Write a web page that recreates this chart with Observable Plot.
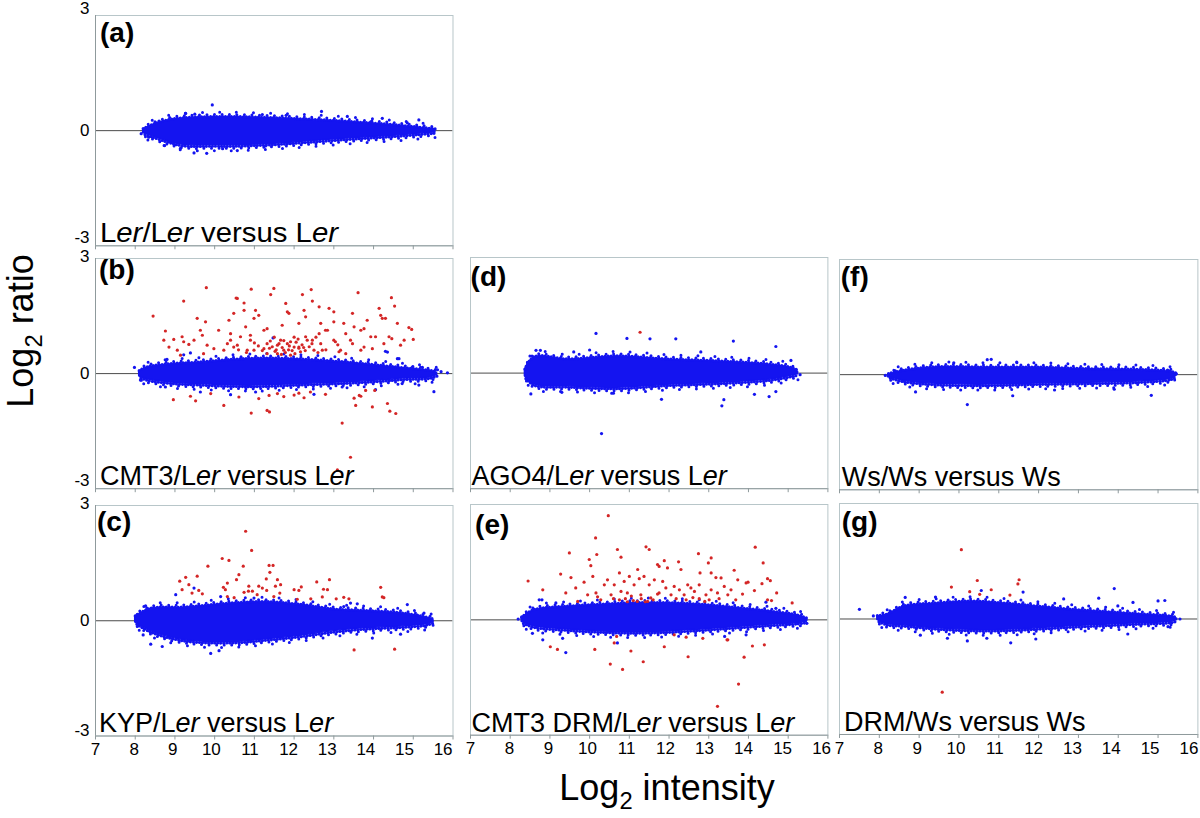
<!DOCTYPE html>
<html>
<head>
<meta charset="utf-8">
<script src="https://cdn.jsdelivr.net/npm/d3@7"></script>
<script src="https://cdn.jsdelivr.net/npm/@observablehq/plot@0.6"></script>
<style>
  html, body { margin: 0; padding: 0; background: #ffffff; }
  #wrap { position: relative; width: 1200px; height: 818px; overflow: hidden; background: #fff; }
  .pan { position: absolute; }
  .pan svg { max-width: none !important; overflow: visible; display: block; }
  #ov { position: absolute; left: 0; top: 0; pointer-events: none; }
</style>
</head>
<body>
<div id="wrap"></div>
<script>
// ---------------- DATA ----------------
const xTicks = [7, 8, 9, 10, 11, 12, 13, 14, 15, 16];
const yTicks = [-3, 0, 3];
const panelLetters = ["(a)", "(b)", "(c)", "(d)", "(e)", "(f)", "(g)"];
const panelNames = [
  "L*er*/L*er* versus L*er*",
  "CMT3/L*er* versus L*er*",
  "KYP/L*er* versus L*er*",
  "AGO4/L*er* versus L*er*",
  "CMT3 DRM/L*er* versus L*er*",
  "Ws/Ws versus Ws",
  "DRM/Ws versus Ws"
];
const xTitle = ["Log", "2", " intensity"];
const yTitle = ["Log", "2", " ratio"];

// dense blue core of each cloud: log2 intensity, upper and lower log2 ratio
const aEnvX  = [8.2, 8.4, 8.8, 9.2, 10.0, 10.5, 11.5, 12.2, 13.0, 13.85, 14.5, 15.1, 15.55];
const aEnvHi = [0.03, 0.12, 0.25, 0.31, 0.34, 0.34, 0.31, 0.28, 0.24, 0.18, 0.13, 0.07, 0.02];
const aEnvLo = [-0.06, -0.13, -0.27, -0.37, -0.38, -0.38, -0.34, -0.29, -0.23, -0.17, -0.13, -0.08, -0.04];

const bEnvX  = [8.1, 8.3, 9.0, 9.56, 10.5, 11.24, 12.2, 13.0, 13.47, 14.26, 14.73, 15.4, 15.6];
const bEnvHi = [0.05, 0.15, 0.24, 0.27, 0.35, 0.38, 0.35, 0.3, 0.26, 0.18, 0.13, 0.06, 0.02];
const bEnvLo = [-0.07, -0.15, -0.24, -0.27, -0.31, -0.31, -0.27, -0.24, -0.22, -0.17, -0.13, -0.1, -0.04];

const cEnvX  = [8.0, 8.39, 9.22, 10.48, 11.32, 12.16, 13.0, 13.84, 14.68, 15.27, 15.5];
const cEnvHi = [0.1, 0.3, 0.33, 0.44, 0.47, 0.4, 0.28, 0.24, 0.18, 0.08, 0.02];
const cEnvLo = [-0.04, -0.27, -0.5, -0.55, -0.48, -0.39, -0.27, -0.19, -0.15, -0.1, -0.04];

const dEnvX  = [8.37, 8.6, 9.45, 10.7, 11.96, 13.22, 14.48, 15.07, 15.25];
const dEnvHi = [0.08, 0.4, 0.34, 0.42, 0.34, 0.29, 0.21, 0.12, 0.03];
const dEnvLo = [-0.08, -0.29, -0.34, -0.38, -0.3, -0.25, -0.17, -0.07, -0.03];

const eEnvX  = [8.29, 8.6, 9.45, 10.28, 11.12, 11.96, 12.8, 13.64, 14.48, 15.24, 15.47];
const eEnvHi = [0.05, 0.24, 0.33, 0.38, 0.42, 0.42, 0.38, 0.3, 0.21, 0.1, 0.02];
const eEnvLo = [-0.05, -0.17, -0.25, -0.3, -0.32, -0.3, -0.25, -0.19, -0.13, -0.08, -0.05];

const fEnvX  = [8.23, 8.61, 9.45, 10.71, 11.97, 13.23, 14.49, 15.33, 15.46];
const fEnvHi = [0.0, 0.09, 0.18, 0.17, 0.17, 0.13, 0.11, 0.06, 0.01];
const fEnvLo = [-0.05, -0.16, -0.24, -0.26, -0.23, -0.21, -0.18, -0.1, -0.03];

const gEnvX  = [7.95, 8.19, 8.61, 9.45, 10.29, 11.13, 11.97, 12.81, 13.65, 14.49, 15.33, 15.48];
const gEnvHi = [0.06, 0.1, 0.31, 0.39, 0.44, 0.39, 0.31, 0.23, 0.17, 0.11, 0.05, 0.01];
const gEnvLo = [-0.02, -0.13, -0.16, -0.24, -0.28, -0.28, -0.24, -0.19, -0.15, -0.11, -0.07, -0.03];

// scattered blue points outside the dense core [log2 intensity, log2 ratio]
const aBlue = [[9.94,0.67],[12.69,0.5],[9.27,0.45],[9.5,0.43],[9.8,-0.59],[9.48,-0.58],[8.74,-0.39],[10.57,-0.52],
  [15.14,0.28],[13.34,0.37],[14.22,0.32],[13.93,0.23],[14.85,0.2],[15.27,0.03],[15.52,-0.03],[8.34,-0.17],
  [9.14,-0.46],[11.28,-0.4],[10.2,-0.47],[8.6,0.25],[11.2,0.42],[11.8,0.4],[8.15,-0.08],[15.45,0.05]];
const bBlue = [[7.98,0.16],[8.13,-0.17],[11.47,0.93],[14.35,0.56],[15.52,-0.47],[15.86,0.02],[14.64,0.39],[12.5,-0.54],
  [15.61,0.1],[14.3,0.58],[14.6,0.39],[14.98,0.17],[15.23,0.16],[15.14,-0.3],[14.72,-0.26],[14.05,-0.42],
  [13.21,-0.35],[9.39,0.54],[9.22,0.49],[8.8,0.37],[8.76,-0.35],[9.64,-0.48],[10.4,-0.55],[11.03,-0.48],
  [15.7,0.05],[15.45,-0.1]];
const cBlue = [[9.9,-0.85],[10.11,-0.78],[9.02,0.68],[9.48,0.85],[14.85,0.42],[15.27,0.2],[15.48,0.0],[13.97,-0.45],
  [8.68,-0.67],[8.39,-0.61],[8.2,-0.37],[8.05,0.16],[14.68,-0.35],[13.42,0.46],[8.26,0.39],[10.15,0.63],
  [10.99,0.59],[13.25,0.37],[13.59,0.44],[15.35,-0.08],[15.1,0.15]];
const dBlue = [[8.52,-0.54],[10.16,1.03],[10.3,-1.57],[10.94,0.9],[11.52,0.89],[12.17,0.89],[13.62,0.83],[14.69,0.69],
  [13.33,-0.85],[13.38,-0.69],[14.15,-0.55],[14.52,-0.61],[14.69,-0.48],[11.81,-0.68],[15.3,-0.04],[15.07,0.33],
  [8.65,0.59],[8.76,0.59],[9.6,0.55],[10.0,0.6],[12.8,0.55],[9.3,-0.5],[10.6,-0.52],[15.2,0.1],[8.4,-0.15]];
const eBlue = [[9.4,-0.85],[8.29,0.06],[8.56,-0.35],[8.82,-0.52],[9.32,-0.48],[8.73,0.52],[8.8,0.52],[9.15,0.44],
  [15.47,-0.09],[15.45,0.0],[15.2,0.04],[15.03,-0.09],[14.44,0.46],[14.69,0.3],[13.94,-0.39],[13.4,-0.43],
  [10.7,-0.6],[8.2,0.02],[15.3,-0.05]];
const fBlue = [[10.21,-0.78],[10.71,0.39],[10.81,0.4],[9.87,0.31],[11.45,0.33],[14.83,-0.54],[8.91,-0.45],
  [11.35,-0.55],[8.23,-0.04],[15.46,0.02],[15.24,0.12],[8.4,0.1],[12.4,-0.4],[13.9,-0.38],[8.15,-0.02]];
const gBlue = [[7.5,0.25],[8.65,0.56],[9.41,0.57],[10.56,0.74],[11.61,0.7],[12.63,0.52],[13.51,0.54],[13.9,0.79],
  [13.99,0.34],[14.37,0.43],[15.0,0.47],[15.17,0.48],[10.21,-0.57],[9.71,-0.5],[11.3,-0.62],[11.93,-0.52],
  [14.24,-0.39],[15.25,-0.2],[15.55,0.0],[10.7,-0.5],[9.03,-0.42],[7.85,0.08]];

// red (significant) points [log2 intensity, log2 ratio]
const aRed = [];
const bRed = [[8.45,1.5],[9.22,1.89],[9.79,2.24],[10.92,2.2],[11.49,2.22],[12.43,2.19],[13.61,2.11],[14.45,1.98],
  [14.53,1.76],[10.54,1.97],[11.41,2.06],[12.21,2.06],[12.46,1.89],[11.79,1.83],[9.56,1.44],[8.76,1.11],
  [8.72,0.87],[8.97,0.89],[8.85,0.69],[9.18,0.96],[9.22,0.83],[9.35,0.76],[9.06,0.61],[9.48,0.87],[9.64,1.13],
  [9.77,1.35],[9.69,1.0],[9.81,0.74],[10.1,1.13],[10.36,1.39],[10.48,1.57],[10.57,1.96],[10.74,1.84],
  [10.74,1.65],[11.03,1.65],[11.11,1.52],[10.99,1.44],[10.78,1.22],[10.9,1.0],[10.4,0.87],[10.57,0.74],
  [10.23,0.61],[9.98,0.65],[10.82,0.61],[11.24,0.65],[11.58,0.74],[11.74,0.61],[11.32,1.17],[11.7,1.26],
  [11.83,1.61],[12.25,1.65],[12.63,1.74],[13.0,1.61],[13.25,1.31],[13.84,1.39],[14.14,1.7],[14.18,1.52],
  [14.22,1.44],[14.3,1.44],[13.47,1.57],[13.76,1.17],[14.89,1.2],[14.96,1.15],[15.0,0.89],[14.68,0.74],
  [14.46,0.91],[14.26,0.78],[13.97,0.65],[14.05,0.96],[13.68,0.61],[13.47,0.78],[13.3,1.04],[13.04,0.83],
  [12.88,1.7],[13.0,1.35],[12.79,1.13],[12.63,1.04],[12.46,0.87],[12.29,0.96],[12.12,0.69],[11.91,0.83],
  [11.87,1.57],[12.12,1.31],[12.29,1.48],[12.71,0.61],[13.13,0.57],[13.3,0.52],[13.51,1.22],[12.67,1.31],
  [12.84,1.13],[14.6,1.31],[14.77,0.87],[14.39,0.96],[13.76,0.69],[13.93,0.96],[13.68,1.13],[13.42,0.87],
  [10.4,1.04],[10.48,0.69],[10.9,0.87],[11.24,1.13],[11.32,0.78],[11.66,0.87],[12.0,0.69],[12.33,0.87],
  [12.5,0.61],[12.67,0.78],[13.0,0.87],[13.17,0.61],[10.99,0.61],[11.32,0.52],[11.58,0.52],[11.91,0.48],
  [12.16,0.57],[11.83,0.78],[9.72,0.52],[10.32,0.78],[10.65,0.96],[9.14,0.48],[11.45,0.7],[11.55,0.62],
  [11.62,0.78],[11.7,0.68],[11.78,0.55],[11.88,0.72],[11.95,0.6],[12.05,0.82],[12.12,0.66],[12.2,0.75],
  [12.28,0.6],[12.38,0.7],[11.4,0.85],[11.5,0.95],[12.0,0.95],[12.45,0.78],[11.2,0.6],[11.1,0.72],
  [12.6,0.55],[12.8,0.62],[13.1,0.75],[10.8,0.55],[10.6,0.62],[11.0,0.8],[12.55,0.95],
  [11.52,0.58],[11.68,0.5],[11.86,0.62],[12.02,0.52],[12.24,0.68],[11.38,0.66],[11.74,0.86],[12.1,0.9],
  [8.96,-0.68],[9.39,-0.59],[9.52,-0.71],[10.23,-0.83],[10.61,-0.61],[11.11,-0.65],[11.37,-0.57],[11.58,-0.52],
  [11.74,-0.6],[10.92,-1.03],[11.32,-0.96],[11.38,-1.0],[9.9,-0.52],[13.21,-1.29],[13.42,-2.18],[13.09,-2.51],
  [13.55,-0.83],[13.97,-0.87],[14.35,-0.78],[14.41,-0.98],[14.56,-1.04],[13.64,-0.57],[12.41,-0.48],
  [12.0,-0.56],[12.12,-0.51],[12.79,-0.54],[13.51,-0.64],[13.8,-0.44],[14.03,-0.44],[12.25,-0.63],[13.68,-0.59]];
const cRed = [[10.78,2.33],[10.93,1.83],[9.83,1.42],[10.19,1.62],[10.36,1.57],[10.72,1.42],[11.37,1.44],[11.47,1.44],
  [11.39,1.26],[9.56,1.16],[9.27,1.13],[9.12,1.03],[10.61,1.2],[10.55,1.07],[10.32,0.98],[11.3,1.09],
  [11.58,1.07],[11.66,0.94],[9.18,0.81],[9.35,0.94],[9.43,0.72],[9.6,0.79],[9.69,0.7],[10.22,0.87],
  [10.27,0.81],[10.86,0.9],[10.85,0.77],[10.74,0.74],[10.95,0.77],[11.11,0.9],[11.2,0.85],[11.31,0.79],
  [11.07,0.68],[11.53,0.9],[11.64,0.72],[11.49,0.63],[12.0,0.81],[12.12,0.79],[12.18,0.88],[12.57,1.01],
  [12.74,0.82],[12.84,0.81],[12.89,1.07],[12.42,0.57],[12.71,0.62],[13.06,0.57],[13.25,0.61],[13.38,0.57],
  [14.18,0.87],[14.22,0.62],[14.26,0.6],[12.08,0.56],[10.32,0.63],[10.49,0.6],[13.51,-0.76],[14.53,-0.74]];
const dRed = [[11.27,1.06]];
const eRed = [[10.47,2.71],[10.15,2.13],[9.49,1.74],[9.99,1.57],[10.18,1.7],[10.03,1.41],[10.7,1.83],[10.79,1.63],
  [11.42,1.9],[11.5,1.83],[9.27,1.19],[8.45,1.01],[8.82,0.78],[9.53,1.1],[9.65,0.83],[9.86,0.98],[10.08,1.13],
  [10.16,0.7],[10.37,0.91],[10.45,1.04],[10.62,0.91],[10.75,1.22],[10.87,1.0],[11.0,1.13],[11.12,0.91],
  [11.25,1.07],[11.37,1.13],[11.5,0.91],[11.63,1.04],[11.71,1.44],[11.21,1.31],[10.79,0.74],[10.95,0.7],
  [10.54,0.65],[9.95,0.65],[9.7,0.48],[9.4,0.7],[10.28,0.52],[11.29,0.65],[11.54,0.57],[11.71,0.67],
  [14.17,1.89],[14.37,1.48],[12.74,1.72],[13.06,1.61],[12.99,1.48],[11.88,1.54],[12.24,1.51],[12.3,1.31],
  [11.75,1.39],[11.96,1.35],[12.78,1.22],[13.06,1.22],[13.18,1.1],[13.31,1.09],[13.64,1.29],[13.73,1.04],
  [13.94,0.96],[13.99,0.98],[14.15,0.76],[14.34,0.94],[14.48,1.07],[14.55,1.02],[14.71,0.7],[14.48,0.52],
  [14.58,0.5],[15.1,0.44],[13.85,0.67],[13.68,0.52],[13.56,0.78],[13.39,0.87],[13.48,0.65],[13.22,0.7],
  [13.06,0.78],[12.93,0.65],[12.76,0.91],[12.64,0.74],[12.55,0.83],[12.47,0.91],[12.38,0.65],[12.26,0.78],
  [12.13,0.87],[12.05,0.65],[11.92,0.83],[11.84,1.0],[11.75,0.7],[13.01,0.52],[12.76,0.55],[13.26,0.55],
  [12.43,0.52],[12.18,0.55],[11.46,0.48],[11.2,0.48],[10.9,0.55],[11.05,0.62],[10.6,0.55],[10.2,0.6],
  [11.1,0.5],[11.3,0.55],[11.4,0.47],[10.95,0.47],[11.6,0.52],[12.6,0.58],[12.9,0.48],[10.75,0.52],
  [9.01,-0.7],[9.19,-0.77],[10.13,-0.77],[10.52,-1.15],[10.83,-1.29],[11.04,-0.81],[11.35,-1.09],
  [11.88,-0.7],[12.48,-0.96],[13.46,-0.52],[13.89,-0.97],[14.1,-0.68],[14.4,-0.65],[13.75,-1.67],
  [13.22,-2.25],[10.68,-0.43],[10.62,-0.6],[13.48,-0.52],[12.85,-0.48],[12.13,-0.39],[12.43,-0.45]];
const fRed = [];
const gRed = [[10.06,1.8],[10.46,1.0],[9.81,0.83],[10.27,0.71],[10.81,0.76],[10.52,0.64],[11.51,1.02],[11.48,0.91],
  [11.28,0.62],[9.58,-1.9]];

// ---------------- LAYOUT / STYLE ----------------
const FONT = '"Liberation Sans", Arial, Helvetica, sans-serif';
const BLUE = "#1414f0";
const RED = "#d42626";
const FRAME = "#b8c6c9";
const AXIS = "#8f9a9c";
const ML = 44, MR = 6, MT = 10, MB = 32;

const panels = [
  {env: [aEnvX, aEnvHi, aEnvLo], blue: aBlue, red: aRed, xr: [95, 452.5],   yr: [14.7, 245],   left: true,  bottom: false, lx: 5, ly: 27, nx: 5, k: 1.1, top3: -1.5, bot3: -3, nameLen: 238},
  {env: [bEnvX, bEnvHi, bEnvLo], blue: bBlue, red: bRed, xr: [95, 452.5],   yr: [258.3, 488.5], left: true,  bottom: false, lx: 4, ly: 21, nx: 5, k: 1.1, top3: 3.5, bot3: -3},
  {env: [cEnvX, cEnvHi, cEnvLo], blue: cBlue, red: cRed, xr: [95, 452.5],   yr: [504.5, 735],   left: true,  bottom: true,  lx: 2, ly: 26, nx: 4, k: 1.1, top3: 3.5, bot3: 0},
  {env: [dEnvX, dEnvHi, dEnvLo], blue: dBlue, red: dRed, xr: [469.6, 827],  yr: [257.3, 488.5], left: false, bottom: false, lx: 1, ly: 28.5, nx: 2, k: 0.7},
  {env: [eEnvX, eEnvHi, eEnvLo], blue: eBlue, red: eRed, xr: [469.6, 827],  yr: [504.3, 735],   left: false, bottom: true,  lx: 5.5, ly: 29.5, nx: 2, k: 0.7},
  {env: [fEnvX, fEnvHi, fEnvLo], blue: fBlue, red: fRed, xr: [839.3, 1197.7], yr: [259, 489.3], left: false, bottom: false, lx: 1.5, ly: 27, nx: 2.4, k: 1.0},
  {env: [gEnvX, gEnvHi, gEnvLo], blue: gBlue, red: gRed, xr: [839.3, 1197.7], yr: [503.3, 734.3], left: false, bottom: true, lx: 2.5, ly: 27.5, nx: 4.7, k: 1.0}
];

const wrap = document.getElementById("wrap");

panels.forEach((p) => {
  const w = p.xr[1] - p.xr[0];
  const h = p.yr[1] - p.yr[0];
  const [ex, ehi, elo] = p.env;
  const env = ex.map((x, i) => ({x, hi: ehi[i], lo: elo[i]}));
  const blue = p.blue.map(([x, y]) => ({x, y}));
  const red = p.red.map(([x, y]) => ({x, y}));

  // fuzzy fringe of the dense cloud: dotted strokes along its edges
  const fringe = (key, dy, dash, off, sw) => Plot.line(env, {
    x: "x", y: key, dy, curve: "catmull-rom", stroke: BLUE, strokeWidth: sw,
    strokeLinecap: "round", strokeDasharray: dash, strokeDashoffset: off
  });

  const marks = [
    Plot.ruleY([0], {stroke: "#4a4a4a", strokeWidth: 1}),
    Plot.areaY(env, {x: "x", y1: "lo", y2: "hi", curve: "catmull-rom", fill: BLUE, stroke: BLUE, strokeWidth: 1.5}),
    fringe("hi", -1.0, "0 3", 0, 3.2),
    fringe("hi", -3.0, "0 7.5", 2, 3.0),
    fringe("hi", -5.4, "0 17", 7, 3.0),
    fringe("lo", 1.0, "0 3", 1, 3.2),
    fringe("lo", 3.0, "0 7.5", 5, 3.0),
    fringe("lo", 5.4, "0 17", 12, 3.0),
    Plot.dot(blue, {x: "x", y: "y", r: 1.6, fill: BLUE}),
    Plot.dot(red, {x: "x", y: "y", r: 1.6, fill: RED}),
    Plot.frame({stroke: FRAME, strokeWidth: 1}),
    Plot.ruleY([-3], {stroke: AXIS, strokeWidth: 1}),
    Plot.axisX({ticks: xTicks, tickSize: 4, tickPadding: 3, stroke: AXIS, fontSize: 17,
      tickFormat: p.bottom ? (d) => String(d) : () => "", label: null, fill: "#000"})
  ];
  if (p.left) {
    marks.push(Plot.ruleX([7], {stroke: AXIS, strokeWidth: 1}));
    marks.push(Plot.axisY({ticks: yTicks, tickSize: 0, tickPadding: 6, fontSize: 17,
      tickFormat: (d) => String(d), label: null, fill: "#000"}));
  }

  const chart = Plot.plot({
    width: w + ML + MR,
    height: h + MT + MB,
    marginLeft: ML, marginRight: MR, marginTop: MT, marginBottom: MB,
    x: {domain: [7, 16]},
    y: {domain: [-3, 3], ...(p.left ? {} : {axis: null})},
    style: {background: "transparent", fontFamily: FONT, fontSize: "17px", color: "#000", overflow: "visible"},
    marks
  });

  // tick labels drift slightly left like the original; -3/3 pairs kept apart
  const sv = d3.select(chart);
  sv.selectAll('[aria-label="x-axis tick label"] text').each(function () {
    const v = +this.textContent;
    if (this.textContent !== "") d3.select(this).attr("x", -(v - 7) * p.k);
  });
  sv.selectAll('[aria-label="y-axis tick label"] text').each(function () {
    const t = this.textContent;
    if (t === "3") d3.select(this).attr("y", p.top3);
    if (t === "-3") d3.select(this).attr("y", p.bot3);
  });

  const div = document.createElement("div");
  div.className = "pan";
  div.style.left = (p.xr[0] - ML) + "px";
  div.style.top = (p.yr[0] - MT) + "px";
  div.style.width = (w + ML + MR) + "px";
  div.style.height = (h + MT + MB) + "px";
  div.appendChild(chart);
  wrap.appendChild(div);
});

// ---------------- TEXT OVERLAY ----------------
const ov = d3.select(wrap).append("svg")
  .attr("id", "ov").attr("width", 1200).attr("height", 818)
  .style("font-family", FONT);

function rich(sel, s) {
  s.split("*").forEach((seg, i) => {
    if (seg) sel.append("tspan").attr("font-style", i % 2 ? "italic" : "normal").text(seg);
  });
}

panels.forEach((p, i) => {
  ov.append("text")
    .attr("x", p.xr[0] + p.lx).attr("y", p.yr[0] + p.ly)
    .attr("font-size", 28).attr("font-weight", "bold").attr("fill", "#000")
    .text(panelLetters[i]);
  const t = ov.append("text")
    .attr("x", p.xr[0] + p.nx).attr("y", p.yr[1] - 3.5)
    .attr("font-size", 27).attr("fill", "#000");
  if (p.nameLen) t.attr("textLength", p.nameLen).attr("lengthAdjust", "spacingAndGlyphs");
  rich(t, panelNames[i]);
});

function title(sel, parts, size) {
  sel.append("tspan").text(parts[0]);
  sel.append("tspan").attr("font-size", size * 0.66).attr("dy", size * 0.24).text(parts[1]);
  sel.append("tspan").attr("dy", -size * 0.24).text(parts[2]);
}
const yt = ov.append("text")
  .attr("transform", "translate(33,331) rotate(-90)")
  .attr("text-anchor", "middle").attr("font-size", 36).attr("fill", "#000");
title(yt, yTitle, 36);
const xt = ov.append("text")
  .attr("x", 667).attr("y", 800)
  .attr("text-anchor", "middle").attr("font-size", 36).attr("fill", "#000");
title(xt, xTitle, 36);
</script>
</body>
</html>
